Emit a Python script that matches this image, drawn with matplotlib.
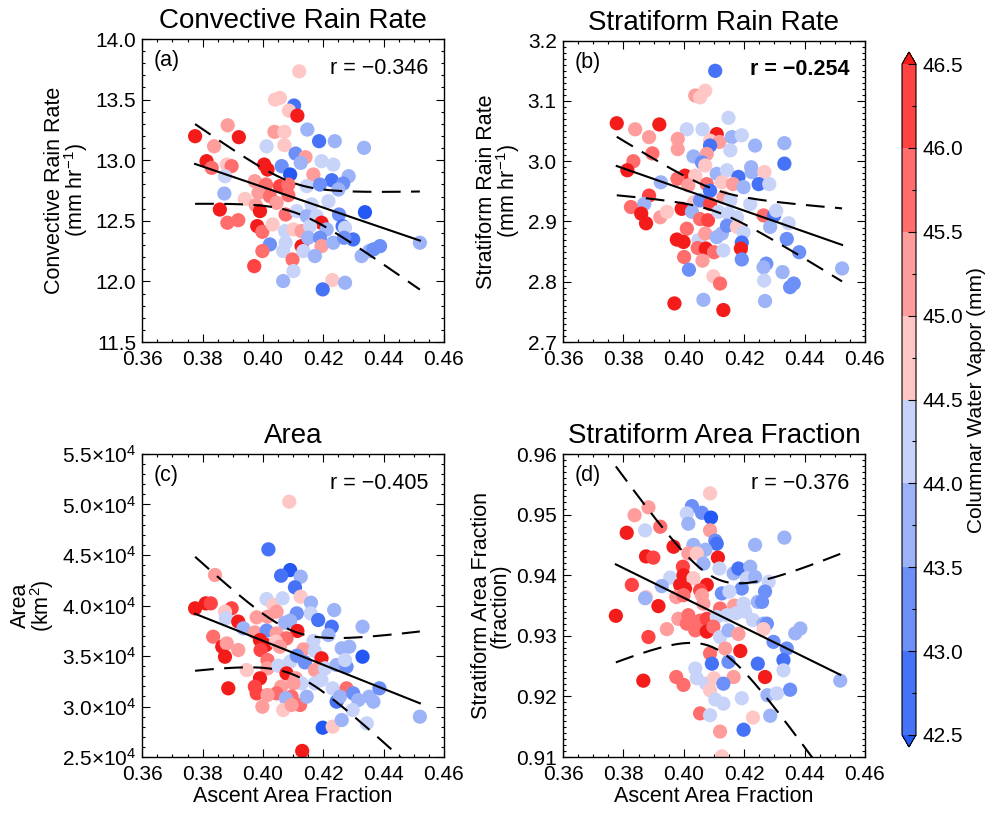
import numpy as np
import matplotlib
matplotlib.use("Agg")
import matplotlib.pyplot as plt
import matplotlib.ticker as mt
from matplotlib.colors import ListedColormap, BoundaryNorm
from matplotlib.cm import ScalarMappable

plt.rcParams['font.family'] = ['Liberation Sans', 'DejaVu Sans']
plt.rcParams['mathtext.fontset'] = 'custom'
plt.rcParams['mathtext.rm'] = 'Liberation Sans'
plt.rcParams['mathtext.it'] = 'Liberation Sans:italic'
plt.rcParams['mathtext.bf'] = 'Liberation Sans:bold'

# ---------------- data ----------------
# (a) convective rain rate
xa = [0.4120, 0.4040, 0.4056, 0.4103, 0.4086, 0.4114, 0.3883, 0.3775, 0.3920, 0.4038,
      0.4071, 0.4147, 0.3838, 0.4012, 0.4071, 0.4186, 0.4238, 0.4335, 0.4108, 0.4141,
      0.4125, 0.3813, 0.3830, 0.3880, 0.3896, 0.4004, 0.4015, 0.4062, 0.4090, 0.4194,
      0.4233, 0.4284, 0.4228, 0.3874, 0.4167, 0.4266, 0.3973, 0.4010, 0.4056, 0.4084,
      0.4145, 0.4189, 0.4250, 0.3872, 0.3940, 0.3985, 0.4023, 0.4084, 0.4161, 0.4217,
      0.3857, 0.3918, 0.3882, 0.3976, 0.3990, 0.4045, 0.4075, 0.4112, 0.4145, 0.4178,
      0.4194, 0.4252, 0.4264, 0.4338, 0.3981, 0.3998, 0.4032, 0.4073, 0.4101, 0.4128,
      0.4156, 0.4211, 0.4272, 0.4299, 0.4023, 0.4075, 0.4128, 0.4150, 0.4189, 0.4194,
      0.4233, 0.4269, 0.3998, 0.4067, 0.4098, 0.4134, 0.4172, 0.4327, 0.4352, 0.4366,
      0.4388, 0.4520, 0.3971, 0.4067, 0.4101, 0.4230, 0.4272, 0.4198]
ya = [13.733, 13.500, 13.514, 13.451, 13.409, 13.368, 13.288, 13.198, 13.190, 13.234,
      13.234, 13.253, 13.115, 13.115, 13.124, 13.157, 13.157, 13.102, 13.055, 13.025,
      12.978, 12.992, 12.937, 12.964, 12.951, 12.964, 12.923, 12.951, 12.882, 12.992,
      12.964, 12.868, 12.835, 12.868, 12.882, 12.808, 12.827, 12.799, 12.786, 12.799,
      12.786, 12.799, 12.758, 12.725, 12.681, 12.731, 12.703, 12.712, 12.635, 12.662,
      12.593, 12.505, 12.484, 12.629, 12.580, 12.648, 12.552, 12.580, 12.538, 12.538,
      12.484, 12.552, 12.456, 12.571, 12.456, 12.409, 12.470, 12.415, 12.429, 12.415,
      12.456, 12.429, 12.442, 12.346, 12.305, 12.319, 12.291, 12.360, 12.360, 12.291,
      12.319, 12.360, 12.250, 12.250, 12.181, 12.250, 12.209, 12.209, 12.250, 12.264,
      12.291, 12.319, 12.126, 12.003, 12.085, 12.011, 11.989, 11.934]
ca = [44.7, 44.7, 44.7, 42.7, 44.7, 46.7, 45.2, 46.7, 46.7, 45.2,
      44.7, 43.7, 45.2, 44.2, 44.7, 42.7, 43.7, 43.7, 43.2, 45.2,
      43.7, 46.7, 45.7, 44.7, 45.7, 46.7, 46.7, 43.2, 42.3, 44.2,
      44.2, 43.7, 42.7, 44.2, 45.2, 43.2, 45.2, 45.7, 46.2, 45.7,
      44.2, 43.2, 43.7, 43.7, 44.7, 45.2, 45.7, 45.7, 44.2, 44.2,
      46.7, 45.7, 45.7, 45.2, 46.7, 45.2, 45.7, 44.2, 43.7, 44.2,
      46.7, 43.2, 42.7, 42.3, 46.7, 45.7, 44.7, 44.2, 44.7, 45.2,
      44.2, 43.7, 44.2, 42.7, 43.2, 44.2, 46.7, 43.7, 43.2, 45.2,
      43.7, 43.2, 45.7, 44.2, 45.7, 44.2, 43.7, 43.7, 43.7, 43.2,
      43.2, 43.7, 46.2, 43.7, 44.2, 44.7, 43.7, 42.7]

# (b) stratiform rain rate
xb = [0.4104, 0.4038, 0.4054, 0.4071, 0.4148, 0.3778, 0.3919, 0.3839, 0.3885, 0.4010,
      0.4062, 0.4109, 0.4087, 0.4118, 0.4159, 0.4192, 0.3980, 0.3980, 0.4236, 0.4333,
      0.4087, 0.4076, 0.3896, 0.4032, 0.4060, 0.3833, 0.4071, 0.4154, 0.4223, 0.4333,
      0.3813, 0.4004, 0.3979, 0.3924, 0.4038, 0.4109, 0.4143, 0.4181, 0.4225, 0.4267,
      0.4126, 0.4163, 0.4198, 0.4248, 0.4283, 0.4015, 0.4076, 0.4087, 0.3885, 0.3869,
      0.3825, 0.3859, 0.3875, 0.3922, 0.3944, 0.3993, 0.4034, 0.4054, 0.4027, 0.4087,
      0.4131, 0.4154, 0.4054, 0.4080, 0.4115, 0.4176, 0.4148, 0.4220, 0.4264, 0.4299,
      0.4306, 0.4010, 0.4126, 0.4143, 0.4176, 0.4198, 0.4286, 0.4347, 0.3977, 0.3999,
      0.4049, 0.4071, 0.4109, 0.4192, 0.4341, 0.4046, 0.4073, 0.4100, 0.4131, 0.4189,
      0.4192, 0.4001, 0.4062, 0.4382, 0.4273, 0.4264, 0.4017, 0.4098, 0.4327, 0.4524,
      0.4120, 0.4266, 0.4364, 0.4352, 0.3969, 0.4065, 0.4269, 0.4131]
yb = [3.150, 3.109, 3.106, 3.117, 3.072, 3.063, 3.061, 3.053, 3.040, 3.053,
      3.053, 3.045, 3.034, 3.032, 3.040, 3.043, 3.037, 3.020, 3.026, 3.030,
      3.026, 3.012, 3.013, 3.008, 2.998, 3.000, 2.993, 3.018, 2.990, 2.996,
      2.985, 2.976, 2.971, 2.965, 2.976, 2.979, 2.985, 2.974, 2.982, 2.982,
      2.965, 2.962, 2.957, 2.962, 2.962, 2.960, 2.962, 2.951, 2.943, 2.929,
      2.924, 2.913, 2.897, 2.907, 2.916, 2.921, 2.932, 2.935, 2.916, 2.929,
      2.940, 2.935, 2.904, 2.902, 2.916, 2.907, 2.913, 2.929, 2.910, 2.910,
      2.918, 2.888, 2.880, 2.893, 2.891, 2.882, 2.891, 2.897, 2.870, 2.866,
      2.869, 2.880, 2.874, 2.865, 2.871, 2.856, 2.855, 2.849, 2.852, 2.855,
      2.837, 2.841, 2.835, 2.849, 2.830, 2.824, 2.820, 2.809, 2.816, 2.822,
      2.797, 2.802, 2.797, 2.791, 2.764, 2.770, 2.768, 2.753]
cb_ = [42.7, 45.2, 44.7, 44.7, 44.2, 46.7, 46.7, 45.2, 45.2, 44.2,
       44.2, 46.7, 44.7, 45.2, 43.7, 44.2, 45.2, 45.2, 43.7, 43.7,
       42.7, 45.2, 45.7, 43.7, 43.2, 45.7, 44.7, 44.2, 43.7, 42.7,
       46.7, 46.7, 45.7, 43.7, 44.7, 43.7, 44.2, 42.7, 43.7, 44.7,
       44.7, 45.2, 43.7, 42.7, 44.2, 45.2, 45.7, 42.7, 46.2, 43.7,
       45.7, 46.7, 46.7, 45.2, 44.7, 46.7, 44.7, 43.2, 43.7, 46.2,
       45.2, 44.2, 45.7, 46.2, 44.2, 44.2, 44.2, 44.2, 45.7, 42.7,
       44.2, 45.7, 43.7, 43.2, 44.7, 44.2, 43.7, 44.2, 46.7, 46.7,
       44.2, 45.2, 43.7, 42.7, 43.2, 45.7, 46.7, 45.7, 44.2, 46.7,
       43.2, 45.7, 45.2, 43.2, 43.2, 43.7, 43.2, 44.7, 43.7, 43.7,
       45.7, 44.2, 43.2, 43.2, 46.7, 43.7, 43.7, 46.7]

# (c) area (km^2)
xc = [0.4087, 0.4018, 0.4090, 0.4060, 0.4125, 0.4106, 0.3841, 0.4125, 0.4159, 0.3775,
      0.3810, 0.3827, 0.3896, 0.3874, 0.3877, 0.4012, 0.4034, 0.4065, 0.4158, 0.4236,
      0.3979, 0.4015, 0.4045, 0.4112, 0.4073, 0.4090, 0.4183, 0.3918, 0.3935, 0.4228,
      0.4330, 0.3973, 0.4012, 0.4045, 0.4114, 0.4078, 0.4167, 0.4217, 0.3835, 0.3865,
      0.3880, 0.3918, 0.3990, 0.4010, 0.3992, 0.4043, 0.4056, 0.4134, 0.4172, 0.4194,
      0.4261, 0.4286, 0.3874, 0.3946, 0.4015, 0.4015, 0.4051, 0.4090, 0.4112, 0.4139,
      0.4172, 0.4206, 0.4244, 0.4277, 0.4330, 0.4272, 0.4078, 0.4109, 0.4128, 0.3990,
      0.3973, 0.3885, 0.4060, 0.4045, 0.4101, 0.4095, 0.4076, 0.3979, 0.4015, 0.4123,
      0.4145, 0.4172, 0.4194, 0.4231, 0.4277, 0.4244, 0.4255, 0.4299, 0.4316, 0.4352,
      0.4366, 0.4386, 0.4297, 0.3998, 0.4067, 0.4095, 0.4520, 0.4198, 0.4231, 0.4261,
      0.4344, 0.4130]
yc = [50280, 45560, 43510, 42950, 42850, 41800, 43020, 40870, 40280, 39720,
      40210, 40210, 39720, 39390, 38730, 40640, 40050, 40710, 39220, 39550,
      38830, 38890, 39390, 39220, 38300, 38500, 38560, 38400, 37740, 37900,
      37900, 37340, 37510, 37240, 37480, 36750, 36490, 37080, 36910, 35920,
      36250, 35590, 36580, 36090, 35590, 36420, 35920, 35660, 35500, 34770,
      35760, 35920, 34930, 33610, 34600, 33780, 34040, 34440, 35030, 34370,
      33610, 33780, 34110, 33940, 34930, 34600, 33280, 32790, 32290, 32790,
      31960, 31800, 31960, 31300, 32290, 30970, 30810, 31300, 31140, 30150,
      30970, 32290, 32620, 31800, 31800, 30480, 30970, 31300, 30640, 30970,
      30480, 31800, 29650, 29980, 29650, 30150, 28990, 27900, 28000, 28660,
      28330, 25600]
cc = [44.7, 42.7, 42.3, 42.7, 43.7, 42.7, 45.2, 44.7, 43.7, 46.7,
      46.7, 46.2, 46.2, 44.7, 44.2, 44.2, 44.7, 44.2, 44.2, 43.7,
      45.2, 45.2, 45.2, 43.2, 43.7, 43.7, 42.7, 46.7, 43.7, 42.7,
      43.7, 45.2, 43.2, 45.2, 46.7, 45.7, 44.2, 43.7, 45.7, 46.7,
      45.2, 45.2, 46.7, 46.7, 46.2, 44.7, 45.2, 45.2, 44.2, 46.7,
      43.7, 43.7, 46.7, 44.7, 45.7, 45.2, 44.2, 44.2, 43.2, 43.2,
      45.2, 44.2, 43.7, 43.2, 42.3, 44.2, 46.7, 45.2, 44.2, 46.7,
      46.2, 46.7, 45.2, 45.7, 45.2, 45.7, 43.7, 46.2, 45.2, 45.7,
      43.7, 44.2, 44.2, 44.2, 45.7, 42.7, 43.7, 43.2, 43.7, 43.7,
      43.7, 43.2, 44.2, 45.2, 44.7, 45.2, 43.7, 42.3, 44.7, 43.7,
      44.2, 46.7]

# (d) stratiform area fraction
xd = [0.4087, 0.4027, 0.4010, 0.4060, 0.4090, 0.3883, 0.3837, 0.3922, 0.4015, 0.3872,
      0.3811, 0.4087, 0.4104, 0.4109, 0.4032, 0.4071, 0.4015, 0.4043, 0.3966, 0.4113,
      0.4236, 0.4333, 0.3875, 0.3899, 0.3997, 0.4065, 0.4118, 0.3955, 0.3999, 0.4032,
      0.4165, 0.4181, 0.4220, 0.4209, 0.4236, 0.4281, 0.3828, 0.3927, 0.3988, 0.4004,
      0.4076, 0.4054, 0.4126, 0.4192, 0.4151, 0.4269, 0.3875, 0.3872, 0.3916, 0.3975,
      0.3999, 0.4060, 0.4065, 0.4120, 0.4167, 0.4198, 0.4245, 0.4259, 0.3775, 0.3982,
      0.4015, 0.4054, 0.4076, 0.4109, 0.4143, 0.4173, 0.4203, 0.4229, 0.4264, 0.4275,
      0.3883, 0.3944, 0.4010, 0.4038, 0.4076, 0.4098, 0.4120, 0.4148, 0.4181, 0.4264,
      0.4297, 0.4386, 0.4369, 0.4137, 0.4187, 0.4341, 0.4330, 0.4087, 0.4093, 0.4148,
      0.4245, 0.4330, 0.4038, 0.4165, 0.4269, 0.3866, 0.3975, 0.3999, 0.4043, 0.4074,
      0.4100, 0.4131, 0.4352, 0.4277, 0.4308, 0.4087, 0.4104, 0.4131, 0.4192, 0.4518,
      0.4054, 0.4087, 0.4229, 0.4286, 0.4120, 0.4198, 0.4126]
yd = [0.9535, 0.9514, 0.9502, 0.9503, 0.9495, 0.9512, 0.9499, 0.9480, 0.9485, 0.9474,
      0.9470, 0.9474, 0.9457, 0.9452, 0.9450, 0.9442, 0.9436, 0.9436, 0.9447, 0.9429,
      0.9450, 0.9462, 0.9431, 0.9429, 0.9414, 0.9419, 0.9411, 0.9396, 0.9400, 0.9395,
      0.9403, 0.9411, 0.9414, 0.9395, 0.9397, 0.9389, 0.9384, 0.9382, 0.9384, 0.9378,
      0.9384, 0.9375, 0.9370, 0.9378, 0.9373, 0.9373, 0.9364, 0.9362, 0.9349, 0.9364,
      0.9367, 0.9367, 0.9353, 0.9345, 0.9350, 0.9353, 0.9356, 0.9356, 0.9333, 0.9328,
      0.9334, 0.9325, 0.9328, 0.9331, 0.9334, 0.9337, 0.9340, 0.9326, 0.9320, 0.9320,
      0.9298, 0.9311, 0.9320, 0.9309, 0.9307, 0.9315, 0.9298, 0.9309, 0.9303, 0.9311,
      0.9290, 0.9312, 0.9304, 0.9279, 0.9275, 0.9279, 0.9260, 0.9271, 0.9254, 0.9257,
      0.9254, 0.9243, 0.9246, 0.9232, 0.9232, 0.9226, 0.9232, 0.9219, 0.9230, 0.9221,
      0.9230, 0.9221, 0.9211, 0.9202, 0.9205, 0.9210, 0.9195, 0.9188, 0.9197, 0.9226,
      0.9172, 0.9169, 0.9165, 0.9168, 0.9142, 0.9145, 0.9101]
cd = [44.7, 43.2, 44.2, 43.2, 42.3, 45.2, 45.2, 45.7, 43.7, 44.2,
      46.7, 45.2, 43.2, 42.7, 43.7, 43.7, 45.2, 44.7, 46.7, 46.7,
      43.7, 43.7, 46.7, 46.2, 46.2, 43.7, 44.2, 44.2, 46.7, 44.7,
      43.7, 42.7, 43.7, 44.2, 43.7, 44.2, 46.2, 43.7, 46.7, 46.7,
      46.7, 46.2, 43.2, 43.2, 44.2, 43.2, 44.7, 43.7, 46.7, 45.2,
      45.7, 45.2, 45.2, 45.7, 45.2, 44.2, 43.7, 43.2, 46.7, 45.2,
      45.7, 45.7, 46.2, 44.2, 44.2, 44.2, 44.2, 44.2, 43.7, 43.2,
      46.2, 45.2, 45.7, 45.7, 46.7, 45.7, 44.2, 43.7, 45.2, 44.7,
      43.2, 43.7, 43.7, 45.2, 46.7, 43.2, 42.7, 45.7, 42.7, 43.2,
      42.7, 44.2, 44.2, 45.2, 46.7, 46.7, 45.7, 45.7, 44.2, 44.2,
      44.7, 43.2, 43.2, 43.7, 44.2, 44.7, 44.2, 44.2, 44.2, 43.7,
      45.7, 44.2, 44.7, 43.7, 45.2, 42.7, 44.7]

titles = ['Convective Rain Rate', 'Stratiform Rain Rate', 'Area', 'Stratiform Area Fraction']
ylabels = ['Convective Rain Rate\n(mm hr$^{-1}$)', 'Stratiform Rain Rate\n(mm hr$^{-1}$)',
           'Area\n(km$^{2}$)', 'Stratiform Area Fraction\n(fraction)']
letters = ['(a)', '(b)', '(c)', '(d)']
r_values = ['\u22120.346', '\u22120.254', '\u22120.405', '\u22120.376']
r_bold = [False, True, False, False]
# confidence band half-width at the mean and per unit x distance
band_w0 = [0.12, 0.018, 2150, 0.0058]
band_ws = [9.3, 1.38, 161000, 0.46]

cwv_levels = [42.5, 43.0, 43.5, 44.0, 44.5, 45.0, 45.5, 46.0, 46.5]
cwv_colors = ['#4672F7', '#6D8FF8', '#9CB3F8', '#C8D3F9',
              '#FFC6C6', '#FF9C9C', '#FF6D6D', '#FF4343']

# ---------------- figure ----------------
W, H = 989, 814
fig = plt.figure(figsize=(W / 100, H / 100), dpi=100)

def axrect(l, t, r, b):
    return [l / W, 1 - b / H, (r - l) / W, (b - t) / H]

rects = [axrect(142.3, 39, 444, 342), axrect(563, 40.7, 865, 342),
         axrect(142.3, 454, 444, 757), axrect(563, 454, 865, 757)]

cmap = ListedColormap(cwv_colors)
cmap.set_under('#2458F5')
cmap.set_over('#F41B1B')
norm = BoundaryNorm(cwv_levels, cmap.N)

data = [(xa, ya, ca), (xb, yb, cb_), (xc, yc, cc), (xd, yd, cd)]
ylims = [(11.5, 14.0), (2.7, 3.2), (25000, 55000), (0.91, 0.96)]
ymajor = [0.5, 0.1, 5000, 0.01]
yminor = [0.1, 0.01, 1000, 0.001]

def area_fmt(v, pos):
    return '%.1f\u00d710$^{4}$' % (v / 1e4)

for i in range(4):
    ax = fig.add_axes(rects[i])
    x = np.array(data[i][0]); y = np.array(data[i][1]); c = np.array(data[i][2])
    ax.scatter(x, y, c=c, cmap=cmap, norm=norm, s=105, linewidths=0, zorder=2)
    # regression and confidence band
    b, a = np.polyfit(x, y, 1)
    xs = np.linspace(x.min(), x.max(), 300)
    yh = a + b * xs
    hw = np.sqrt(band_w0[i] ** 2 + (band_ws[i] * (xs - x.mean())) ** 2)
    ax.plot(xs, yh, color='black', lw=1.5, zorder=3)
    ax.plot(xs, yh + hw, color='black', lw=1.5, ls=(0, (9, 5)), zorder=3)
    ax.plot(xs, yh - hw, color='black', lw=1.5, ls=(0, (9, 5)), zorder=3)

    ax.set_xlim(0.36, 0.46)
    ax.set_ylim(*ylims[i])
    ax.xaxis.set_major_locator(mt.MultipleLocator(0.02))
    ax.xaxis.set_minor_locator(mt.MultipleLocator(0.005))
    ax.xaxis.set_major_formatter(mt.FormatStrFormatter('%.2f'))
    ax.yaxis.set_major_locator(mt.MultipleLocator(ymajor[i]))
    ax.yaxis.set_minor_locator(mt.MultipleLocator(yminor[i]))
    if i == 2:
        ax.yaxis.set_major_formatter(mt.FuncFormatter(area_fmt))
    elif i == 3:
        ax.yaxis.set_major_formatter(mt.FormatStrFormatter('%.2f'))
    else:
        ax.yaxis.set_major_formatter(mt.FormatStrFormatter('%.1f'))
    ax.tick_params(which='both', direction='in', top=True, right=True, width=0.8, labelsize=15)
    ax.tick_params(which='major', length=5.5)
    ax.tick_params(axis='x', which='major', pad=6)
    ax.tick_params(axis='y', which='major', pad=4.5)
    ax.tick_params(which='minor', length=2.5)
    for sp in ax.spines.values():
        sp.set_linewidth(1.0)
    ax.set_title(titles[i], fontsize=20, pad=8)
    ax.set_ylabel(ylabels[i], fontsize=15.5, linespacing=0.85, labelpad=4)
    if i >= 2:
        ax.set_xlabel('Ascent Area Fraction', fontsize=15.5, labelpad=1)
    ax.text(0.037, 0.928, letters[i], transform=ax.transAxes, fontsize=15.5,
            ha='left', va='center')
    ax.text(0.948, 0.903, 'r = ' + r_values[i], transform=ax.transAxes, fontsize=15.5,
            ha='right', va='center', fontweight='bold' if r_bold[i] else 'normal')

cax = fig.add_axes(axrect(902, 52, 916, 747))
sm = ScalarMappable(norm=norm, cmap=cmap)
cbar = fig.colorbar(sm, cax=cax, extend='both', extendfrac=0.018, ticks=cwv_levels,
                    spacing='uniform')
cbar.ax.yaxis.set_major_formatter(mt.FormatStrFormatter('%.1f'))
cbar.ax.tick_params(which='major', direction='in', length=6, width=0.8, labelsize=15, pad=5)
cbar.ax.yaxis.set_minor_locator(mt.FixedLocator([42.75, 43.25, 43.75, 44.25, 44.75, 45.25, 45.75, 46.25]))
cbar.ax.tick_params(which='minor', direction='in', length=3, width=0.8)
cbar.outline.set_linewidth(0.8)
fig.text(976 / W, 1 - 400 / H, 'Columnar Water Vapor (mm)', rotation=90,
         fontsize=15, ha='center', va='center')

fig.savefig('out.png', dpi=100)
